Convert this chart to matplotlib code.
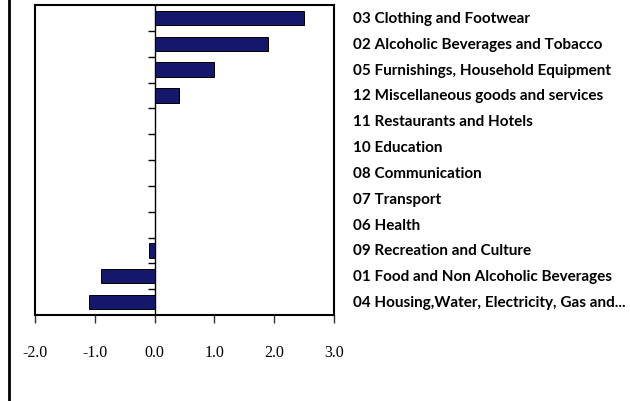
import matplotlib.pyplot as plt
import numpy as np
from matplotlib.lines import Line2D

# categories, top to bottom
categories = [
    "03 Clothing and Footwear",
    "02 Alcoholic Beverages and Tobacco",
    "05 Furnishings, Household Equipment",
    "12 Miscellaneous goods and services",
    "11 Restaurants and Hotels",
    "10 Education",
    "08 Communication",
    "07 Transport",
    "06 Health",
    "09 Recreation and Culture",
    "01 Food and Non Alcoholic Beverages",
    "04 Housing,Water, Electricity, Gas and...",
]
values = [2.5, 1.9, 1.0, 0.4, 0.0, 0.0, 0.0, 0.0, 0.0, -0.1, -0.9, -1.1]
x_ticks = [-2.0, -1.0, 0.0, 1.0, 2.0, 3.0]

fig = plt.figure(figsize=(6.3, 4.02), dpi=100)
ax = fig.add_axes([35 / 630, 1 - 316 / 402, 299 / 630, 310 / 402])

y = np.arange(len(categories))
ax.barh(y, values, height=0.55, color='#15176a', edgecolor='black', linewidth=0.7, zorder=3)

ax.set_xlim(-2, 3)
ax.set_ylim(len(categories) - 0.5, -0.5)

# category axis crosses at zero
ax.spines['left'].set_position(('data', 0))
ax.spines['left'].set_linewidth(1.0)
ax.axvline(-2, color='black', linewidth=1.5, clip_on=False)
for s in ['top', 'right', 'bottom']:
    ax.spines[s].set_linewidth(1.5)

ax.set_yticks(np.arange(len(categories) - 1) + 0.5)
ax.set_yticklabels([])
ax.tick_params(axis='y', direction='out', length=5, width=1, color='black')

ax.set_xticks(x_ticks)
ax.set_xticklabels([f"{v:.1f}" for v in x_ticks], family='Liberation Serif', fontsize=11.5)
ax.tick_params(axis='x', direction='out', length=6, width=1, pad=15, color='#333333')

for i, name in enumerate(categories):
    ax.text(1.064, i, name, transform=ax.get_yaxis_transform(), ha='left', va='center',
            family='Lato', fontweight='bold', fontsize=11)

# border line at left of the figure
fig.add_artist(Line2D([9 / 630, 9 / 630], [0, 1], color='black', linewidth=2))

plt.savefig('out.png', dpi=100)
